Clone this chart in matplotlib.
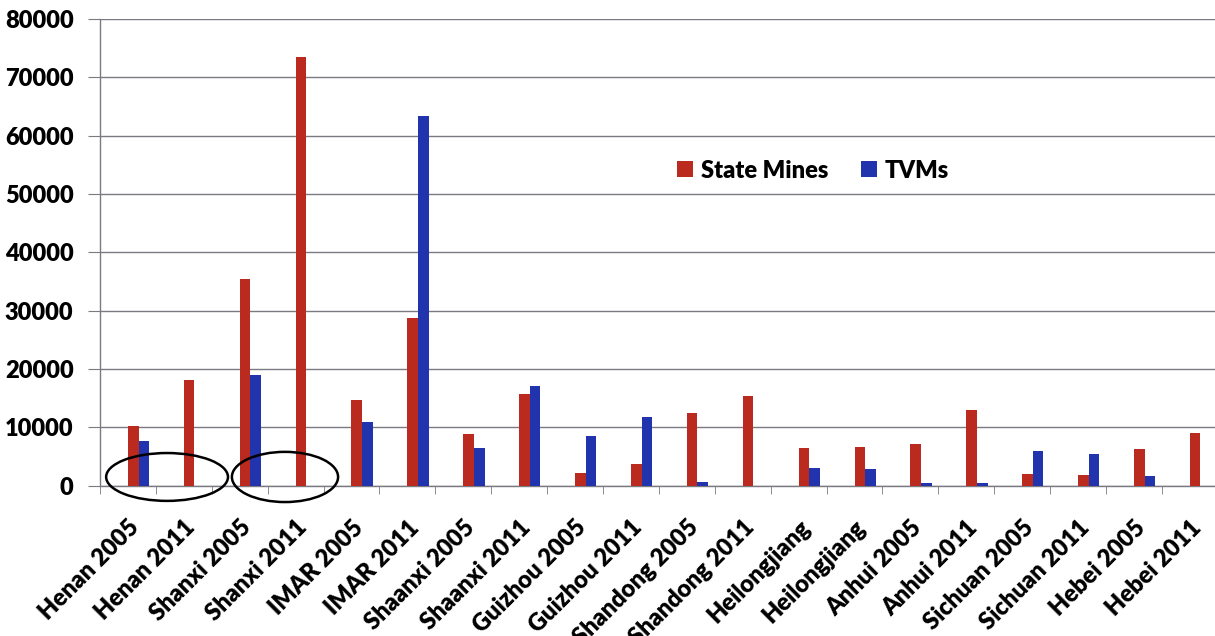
import numpy as np
import matplotlib.pyplot as plt
from matplotlib.patches import Ellipse
from matplotlib.transforms import ScaledTranslation

# 数据
categories = ['Henan 2005', 'Henan 2011', 'Shanxi 2005', 'Shanxi 2011', 'IMAR 2005',
              'IMAR 2011', 'Shaanxi 2005', 'Shaanxi 2011', 'Guizhou 2005', 'Guizhou 2011',
              'Shandong 2005', 'Shandong 2011', 'Heilongjiang', 'Heilongjiang', 'Anhui 2005',
              'Anhui 2011', 'Sichuan 2005', 'Sichuan 2011', 'Hebei 2005', 'Hebei 2011']
state_mines = [10300, 18100, 35400, 73400, 14700, 28800, 8800, 15700, 2200, 3800,
               12500, 15400, 6500, 6600, 7100, 13000, 2000, 1800, 6300, 9000]
tvms = [7700, 0, 19000, 0, 10900, 63400, 6500, 17100, 8500, 11800,
        600, 0, 3100, 2900, 500, 400, 5900, 5400, 1600, 0]
yticks = [0, 10000, 20000, 30000, 40000, 50000, 60000, 70000, 80000]

colors = {'state': '#BA2A1E', 'tvm': '#2233AE', 'grid': '#7a7a80'}

plt.rcParams['font.family'] = ['Lato', 'DejaVu Sans']

fig = plt.figure(figsize=(12.15, 6.36), dpi=100)
ax = fig.add_axes([0.0823, 0.2363, 0.920, 0.734])

x = np.arange(len(categories))
w = 0.19
ax.bar(x, state_mines, width=w, align='edge', color=colors['state'], label='State Mines', zorder=3)
ax.bar(x + w, tvms, width=w, align='edge', color=colors['tvm'], label='TVMs', zorder=3)

ax.set_xlim(-0.5, len(categories) - 0.5)
ax.set_ylim(0, 80000)
ax.set_yticks(yticks)
ax.set_yticklabels([str(v) for v in yticks], fontsize=17, fontweight='heavy')
ax.yaxis.grid(True, color=colors['grid'], linewidth=1.0, zorder=0)

ax.set_xticks(x)
ax.set_xticklabels(categories, rotation=45, ha='right', va='top',
                   rotation_mode='anchor', fontsize=17, fontweight='heavy')
shift = ScaledTranslation(2 / 100, 0, fig.dpi_scale_trans)
for lab in ax.get_xticklabels():
    lab.set_transform(lab.get_transform() + shift)
ax.set_xticks(np.arange(-0.5, len(categories)), minor=True)
ax.tick_params(axis='x', which='major', length=0, pad=22)
ax.tick_params(axis='x', which='minor', length=6, color=colors['grid'], direction='out')
ax.tick_params(axis='y', length=9, color=colors['grid'], pad=10)

for s in ['top', 'right']:
    ax.spines[s].set_visible(False)
for s in ['left', 'bottom']:
    ax.spines[s].set_color(colors['grid'])
    ax.spines[s].set_linewidth(1.0)

# 圈注
for cx, ew, eh in [(0.7, 2.18, 8200), (2.81, 1.9, 8600)]:
    ax.add_patch(Ellipse((cx, 1500), ew, eh, fill=False, edgecolor='black',
                         linewidth=1.8, clip_on=False, zorder=5))

ax.legend(loc='center', bbox_to_anchor=(0.638, 0.675), ncol=2, frameon=False,
          prop={'size': 17, 'weight': 'heavy'}, handlelength=0.65, handleheight=0.65,
          handletextpad=0.35, columnspacing=1.4)

plt.savefig('out.png', dpi=100)
